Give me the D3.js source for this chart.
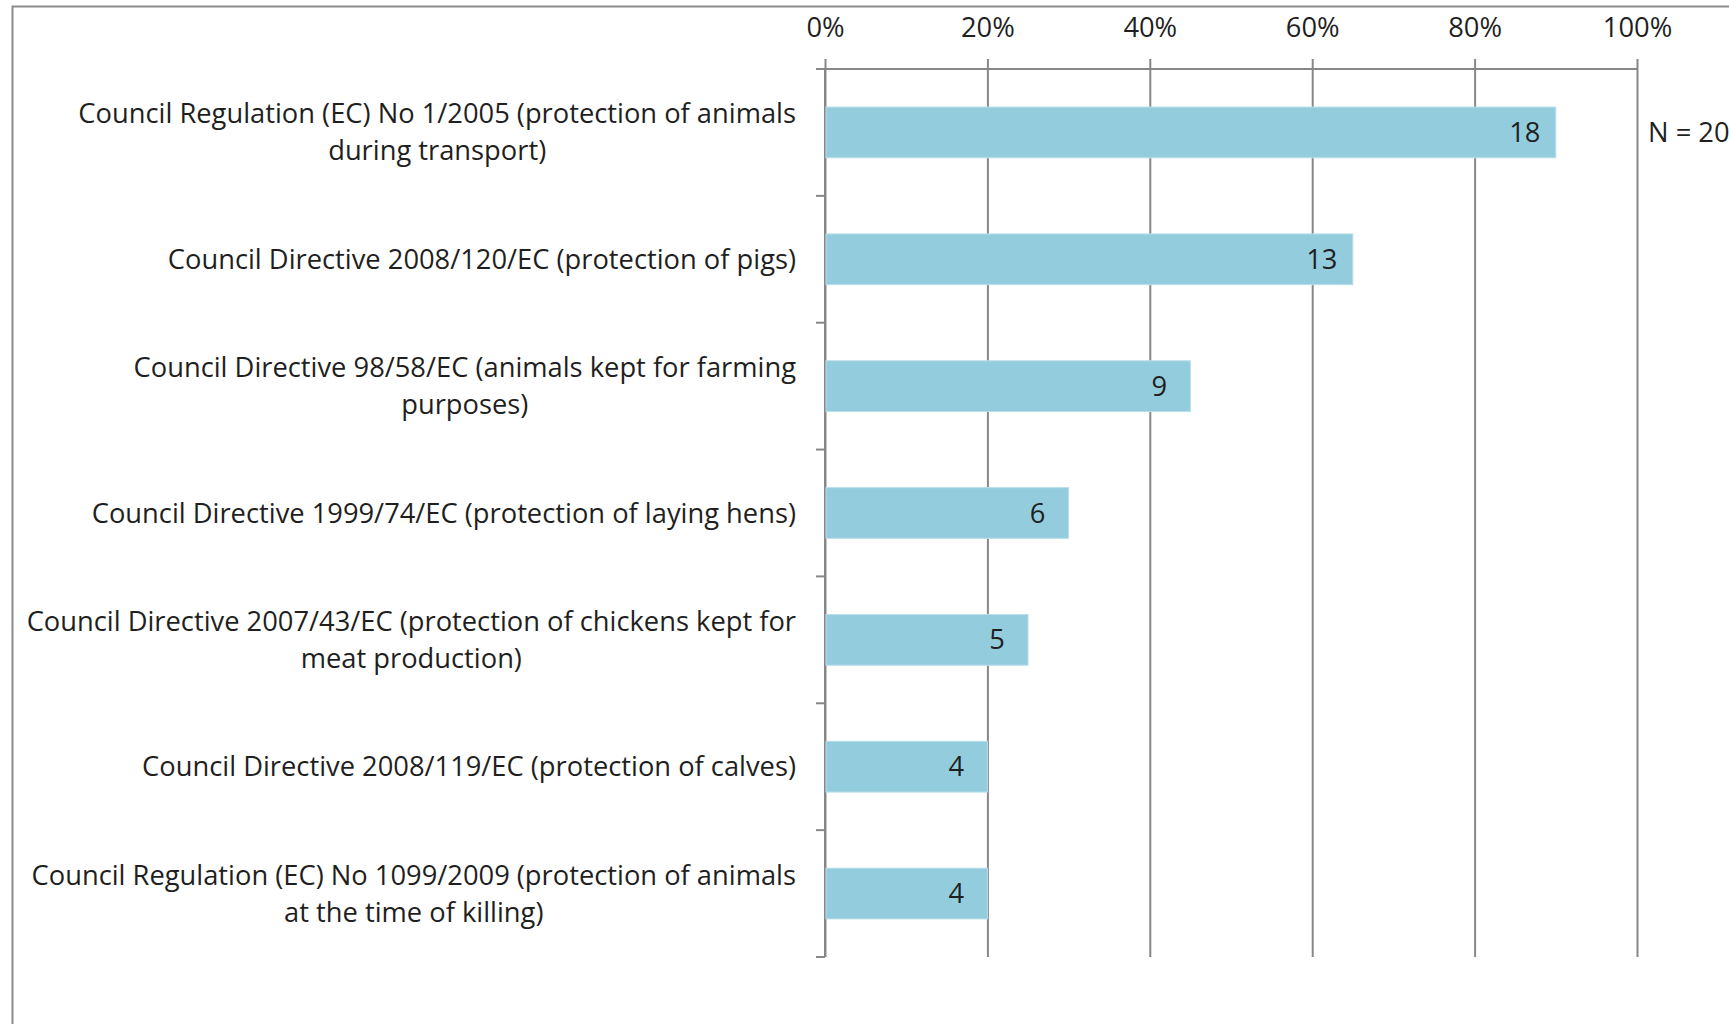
<!DOCTYPE html>
<html>
<head>
<meta charset="utf-8">
<script src="https://cdn.jsdelivr.net/npm/d3@7"></script>
<style>
  html, body { margin: 0; padding: 0; background: #fff; overflow: hidden; }
  svg { display: block; }
  text { font-family: "Open Sans", "Noto Sans", sans-serif; fill: #1f1f1f; }
</style>
</head>
<body>
<div id="chart"></div>
<script>
(function(d3) {
    'use strict'

    var width = 1729;
    var height = 1024;

    // categories, top to bottom ("\n" = line break as in the original)
    var categories = [
        'Council Regulation (EC) No 1/2005 (protection of animals\nduring transport)',
        'Council Directive 2008/120/EC (protection of pigs)',
        'Council Directive 98/58/EC (animals kept for farming\npurposes)',
        'Council Directive 1999/74/EC (protection of laying hens)',
        'Council Directive 2007/43/EC (protection of chickens kept for\nmeat production)',
        'Council Directive 2008/119/EC (protection of calves)',
        'Council Regulation (EC) No 1099/2009 (protection of animals\nat the time of killing)'
    ];
    var counts = [18, 13, 9, 6, 5, 4, 4];
    var total = 20;
    var tickValues = [0, 0.2, 0.4, 0.6, 0.8, 1];
    var noteText = 'N = 20';

    var fontSize = 27.3;
    var gridColor = '#878787';

    var svg = d3.select('#chart')
        .append('svg')
        .attr('width', width)
        .attr('height', height);

    // outer frame (runs off the right and bottom edges like the source image)
    svg.append('rect')
        .attr('x', 12.5)
        .attr('y', 6.5)
        .attr('width', width + 20)
        .attr('height', height + 20)
        .attr('fill', 'none')
        .attr('stroke', '#8a8a8a')
        .attr('stroke-width', 2);

    var x = d3.scaleLinear()
        .domain([0, 1])
        .range([825, 1637]);

    var y = d3.scaleBand()
        .domain(categories)
        .range([69, 957])
        .paddingInner(0.6)
        .paddingOuter(0.3);

    var top = y.range()[0];
    var bottom = y.range()[1];

    // vertical gridlines + top ticks + percent labels
    var xAxis = d3.axisTop(x)
        .tickValues(tickValues)
        .tickFormat(d3.format('.0%'))
        .tickSizeInner(-(bottom - top + 10))
        .tickSizeOuter(0)
        .tickPadding(22);

    var gx = svg.append('g')
        .attr('transform', 'translate(0,' + (top - 10) + ')')
        .call(xAxis);
    gx.select('.domain').remove();
    gx.selectAll('.tick line')
        .attr('stroke', gridColor)
        .attr('stroke-width', 2);
    gx.selectAll('.tick text')
        .attr('font-size', fontSize)
        .attr('font-family', null)
        .attr('fill', '#1f1f1f');

    // top axis line
    svg.append('line')
        .attr('x1', x(0) - 9)
        .attr('x2', x(1) + 1)
        .attr('y1', top)
        .attr('y2', top)
        .attr('stroke', gridColor)
        .attr('stroke-width', 2);

    // category axis line with ticks at band boundaries
    var gap = (y.step() - y.bandwidth()) / 2;
    var bounds = categories.map(function(c) { return y(c) - gap; }).concat([bottom]);

    svg.append('line')
        .attr('x1', x(0))
        .attr('x2', x(0))
        .attr('y1', top)
        .attr('y2', bottom)
        .attr('stroke', gridColor)
        .attr('stroke-width', 2);

    svg.selectAll('.ytick')
        .data(bounds)
        .enter()
        .append('line')
        .attr('class', 'ytick')
        .attr('x1', x(0) - 9)
        .attr('x2', x(0))
        .attr('y1', function(d) { return d; })
        .attr('y2', function(d) { return d; })
        .attr('stroke', gridColor)
        .attr('stroke-width', 2);

    // bars
    svg.selectAll('.bar')
        .data(counts)
        .enter()
        .append('rect')
        .attr('class', 'bar')
        .attr('x', x(0) + 1)
        .attr('y', function(d, i) { return y(categories[i]); })
        .attr('width', function(d) { return x(d / total) - x(0) - 1; })
        .attr('height', y.bandwidth())
        .attr('fill', '#93cddd')
        .attr('stroke', '#b9dfe9')
        .attr('stroke-width', 1);

    // value labels inside bar end
    svg.selectAll('.val')
        .data(counts)
        .enter()
        .append('text')
        .attr('class', 'val')
        .attr('x', function(d) { return x(d / total) - 31; })
        .attr('y', function(d, i) { return y(categories[i]) + y.bandwidth() / 2; })
        .attr('dy', '0.35em')
        .attr('text-anchor', 'middle')
        .attr('font-size', fontSize)
        .text(function(d) { return d; });

    // category labels: block right aligned to the axis, lines centred in the block
    var lineH = 37;
    var labelRight = 796;
    var labels = svg.selectAll('.cat')
        .data(categories)
        .enter()
        .append('text')
        .attr('class', 'cat')
        .attr('text-anchor', 'middle')
        .attr('font-size', fontSize);

    labels.each(function(d) {
        var lines = d.split('\n');
        var t = d3.select(this);
        var spans = lines.map(function(line, k) {
            return t.append('tspan')
                .attr('x', 0)
                .attr('y', (k - (lines.length - 1) / 2) * lineH)
                .attr('dy', '0.35em')
                .text(line);
        });
        var maxW = d3.max(spans, function(s) { return s.node().getComputedTextLength(); });
        t.attr('transform', 'translate(' + (labelRight - maxW / 2) + ',' +
            (y(d) + y.bandwidth() / 2) + ')');
    });

    // N note
    svg.append('text')
        .attr('x', x(1) + 11)
        .attr('y', y(categories[0]) + y.bandwidth() / 2)
        .attr('dy', '0.35em')
        .attr('font-size', fontSize)
        .text(noteText);

})(window.d3);
</script>
</body>
</html>
